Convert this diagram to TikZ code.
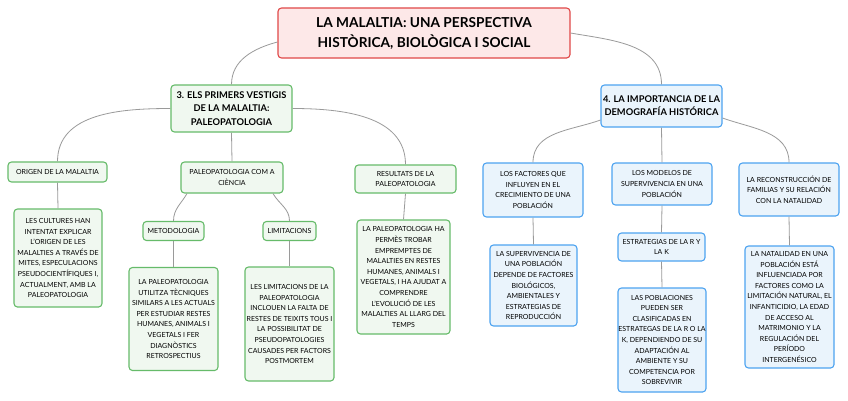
\documentclass[tikz,border=0pt]{standalone}
\usepackage{fontspec}
\setmainfont{Lato}
\definecolor{rootfill}{HTML}{FDE8E8}
\definecolor{rootdraw}{HTML}{E04848}
\definecolor{gfill}{HTML}{F0F8F0}
\definecolor{gdraw}{HTML}{66BB6A}
\definecolor{bfill}{HTML}{EAF4FC}
\definecolor{bdraw}{HTML}{4DA3F0}
\definecolor{conn}{HTML}{9A9A9A}
\begin{document}
\begin{tikzpicture}[x=1pt,y=-1pt,
  base/.style={rounded corners=3.5pt,line width=1.1pt,align=center,inner sep=0pt,
    font=\fontsize{7}{10.6}\selectfont},
  sz/.style 2 args={minimum width=#1,minimum height=#2},
  rootbox/.style={base,fill=rootfill,draw=rootdraw,font=\fontsize{13.7}{20}\selectfont\bfseries},
  gbox/.style={base,fill=gfill,draw=gdraw},
  bbox/.style={base,fill=bfill,draw=bdraw},
  gmain/.style={gbox,font=\fontsize{9.3}{13.2}\selectfont\bfseries},
  bmain/.style={bbox,font=\fontsize{9.3}{13.2}\selectfont\bfseries},
  link/.style={draw=conn,line width=0.8pt}
]
\useasboundingbox (0,0) rectangle (848,400);
\fill[white] (0,0) rectangle (848,400);

% nodes
\node[rootbox,sz={292}{50}] (root) at (424,33) {LA MALALTIA: UNA PERSPECTIVA\\HISTÒRICA, BIOLÒGICA I SOCIAL};

\node[gmain,sz={121}{47}] (n3) at (231.5,108.5) {3. ELS PRIMERS VESTIGIS\\DE LA MALALTIA:\\PALEOPATOLOGIA};
\node[bmain,sz={121}{42}] (n4) at (661.5,106) {4. LA IMPORTANCIA DE LA\\DEMOGRAFÍA HISTÓRICA};

\node[gbox,sz={99}{20}] (orig) at (57.5,172) {ORIGEN DE LA MALALTIA};
\node[gbox,sz={102}{31}] (cien) at (232,177.5) {PALEOPATOLOGIA COM A\\CIÈNCIA};
\node[gbox,sz={101}{28}] (res) at (405.5,179) {RESULTATS DE LA\\PALEOPATOLOGIA};

\node[gbox,sz={88}{98}] (cult) at (58,258) {LES CULTURES HAN\\INTENTAT EXPLICAR\\L'ORIGEN DE LES\\MALALTIES A TRAVÉS DE\\MITES, ESPECULACIONS\\PSEUDOCIENTÍFIQUES I,\\ACTUALMENT, AMB LA\\PALEOPATOLOGIA};
\node[gbox,sz={61}{19}] (met) at (173.5,231) {METODOLOGIA};
\node[gbox,sz={53}{19}] (lim) at (289.5,231) {LIMITACIONS};
\node[gbox,sz={89}{103}] (util) at (173.5,319) {LA PALEOPATOLOGIA\\UTILITZA TÈCNIQUES\\SIMILARS A LES ACTUALS\\PER ESTUDIAR RESTES\\HUMANES, ANIMALS I\\VEGETALS I FER\\DIAGNÒSTICS\\RETROSPECTIUS};
\node[gbox,sz={89}{114}] (limt) at (289.5,324) {LES LIMITACIONS DE LA\\PALEOPATOLOGIA\\INCLOUEN LA FALTA DE\\RESTES DE TEIXITS TOUS I\\LA POSSIBILITAT DE\\PSEUDOPATOLOGIES\\CAUSADES PER FACTORS\\POSTMORTEM};
\node[gbox,sz={93}{114}] (perm) at (403.5,277) {LA PALEOPATOLOGIA HA\\PERMÈS TROBAR\\EMPREMPTES DE\\MALALTIES EN RESTES\\HUMANES, ANIMALS I\\VEGETALS, I HA AJUDAT A\\COMPRENDRE\\L'EVOLUCIÓ DE LES\\MALALTIES AL LLARG DEL\\TEMPS};

\node[bbox,sz={100}{54}] (fact) at (533,190) {LOS FACTORES QUE\\INFLUYEN EN EL\\CRECIMIENTO DE UNA\\POBLACIÓN};
\node[bbox,sz={100}{42}] (mod) at (662,184) {LOS MODELOS DE\\SUPERVIVENCIA EN UNA\\POBLACIÓN};
\node[bbox,sz={100}{53}] (rec) at (789,189.5) {LA RECONSTRUCCIÓN DE\\FAMILIAS Y SU RELACIÓN\\CON LA NATALIDAD};

\node[bbox,sz={87}{81}] (sup) at (533.5,285.5) {LA SUPERVIVENCIA DE\\UNA POBLACIÓN\\DEPENDE DE FACTORES\\BIOLÓGICOS,\\AMBIENTALES Y\\ESTRATEGIAS DE\\REPRODUCCIÓN};
\node[bbox,sz={87}{28}] (rk) at (661.5,247) {ESTRATEGIAS DE LA R Y\\LA K};
\node[bbox,sz={88}{104}] (pob) at (662,340) {LAS POBLACIONES\\PUEDEN SER\\CLASIFICADAS EN\\ESTRATEGAS DE LA R O LA\\K, DEPENDIENDO DE SU\\ADAPTACIÓN AL\\AMBIENTE Y SU\\COMPETENCIA POR\\SOBREVIVIR};
\node[bbox,sz={89}{122}] (nat) at (789.5,307) {LA NATALIDAD EN UNA\\POBLACIÓN ESTÁ\\INFLUENCIADA POR\\FACTORES COMO LA\\LIMITACIÓN NATURAL, EL\\INFANTICIDIO, LA EDAD\\DE ACCESO AL\\MATRIMONIO Y LA\\REGULACIÓN DEL\\PERÍODO\\INTERGENÉSICO};

% connectors
\path[link] ([yshift=-9pt]root.west) to[out=195,in=90] (n3.north);
\path[link] (root.east) to[out=-10,in=90] (n4.north);

\path[link] (n3.west) to[out=180,in=90] (orig.north);
\path[link] (n3.south) -- (cien.north);
\path[link] (n3.east) to[out=0,in=90] (res.north);

\path[link] ([yshift=-14pt]n4.west) to[out=200,in=90] (fact.north);
\path[link] (n4.south) -- (mod.north);
\path[link] ([yshift=-12pt]n4.east) to[out=-20,in=90] (rec.north);

\path[link] (orig.south) -- (cult.north);
\path[link] ([xshift=-45pt]cien.south) to[out=240,in=90] (met.north);
\path[link] ([xshift=41pt]cien.south) to[out=-60,in=90] (lim.north);
\path[link] (met.south) -- (util.north);
\path[link] (lim.south) -- (limt.north);
\path[link] (res.south) -- (perm.north);

\path[link] (fact.south) -- (sup.north);
\path[link] (mod.south) -- (rk.north);
\path[link] (rk.south) -- (pob.north);
\path[link] (rec.south) -- (nat.north);
\end{tikzpicture}
\end{document}
